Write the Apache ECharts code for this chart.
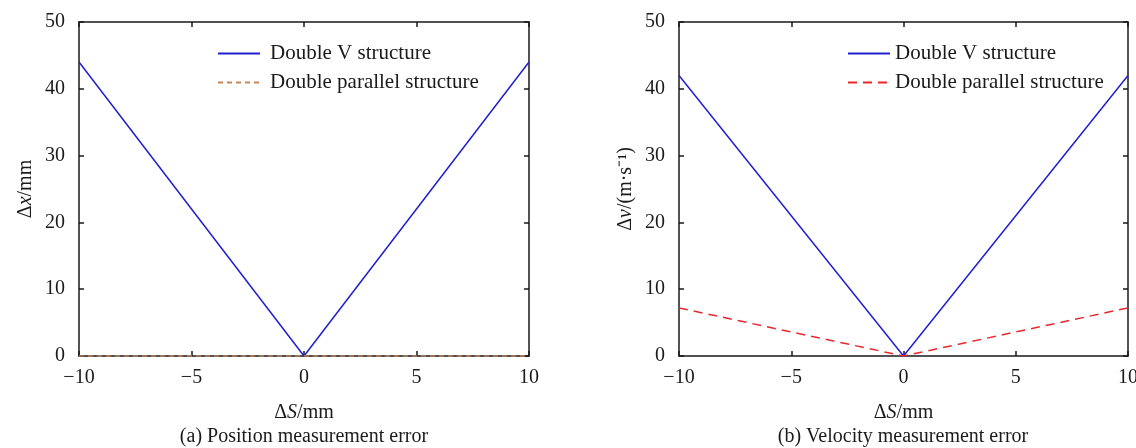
<!DOCTYPE html>
<html lang="en">
<head>
    <meta charset="UTF-8">
    <title>Measurement error</title>
    <style>
        html, body { margin: 0; padding: 0; background: #fff; }
        #main { width: 1136px; height: 448px; }
    </style>
</head>
<body>
<div id="main"></div>

<script src="https://cdn.jsdelivr.net/npm/echarts@6/dist/echarts.min.js"></script>
<script>
    // data
    var deltaS = [-10, 0, 10];
    var posDoubleV = [44, 0, 44];
    var posParallel = [0, 0, 0];
    var velDoubleV = [42, 0, 42];
    var velParallel = [7.2, 0, 7.2];
    var xTicks = [-10, -5, 0, 5, 10];
    var yTicks = [0, 10, 20, 30, 40, 50];

    var legendText = {
        aV: 'Double V structure', aP: 'Double parallel structure',
        bV: 'Double V structure', bP: 'Double parallel structure'
    };

    var font = 'Liberation Serif, Times New Roman, serif';
    var black = '#1a1a1a';

    function pairs(ys) {
        return deltaS.map(function (x, i) { return [x, ys[i]]; });
    }

    function minus(v) {
        return String(v).replace('-', '\u2212');
    }

    var nameRich = {
        n: { fontFamily: font, fontSize: 20, color: black },
        i: { fontFamily: font, fontSize: 20, color: black, fontStyle: 'italic' }
    };

    var axisLine = { show: true, onZero: false, lineStyle: { color: black, width: 1.5 } };
    var axisTick = { show: true, inside: true, length: 5, lineStyle: { color: black, width: 1.5 } };

    function xAxes(gi) {
        var base = {
            type: 'value', gridIndex: gi,
            min: xTicks[0], max: xTicks[xTicks.length - 1], interval: 5,
            splitLine: { show: false },
            axisLine: axisLine, axisTick: axisTick
        };
        return [
            Object.assign({}, base, {
                position: 'bottom',
                axisLabel: { fontFamily: font, fontSize: 20, color: black, margin: 12, formatter: minus },
                name: '{n|\u0394}{i|S}{n|/mm}', nameLocation: 'middle', nameGap: 47,
                nameTextStyle: { rich: nameRich }
            }),
            Object.assign({}, base, { position: 'top', axisLabel: { show: false } })
        ];
    }

    function yAxes(gi, name) {
        var base = {
            type: 'value', gridIndex: gi,
            min: yTicks[0], max: yTicks[yTicks.length - 1], interval: 10,
            splitLine: { show: false },
            axisLine: axisLine, axisTick: axisTick
        };
        return [
            Object.assign({}, base, {
                position: 'left',
                axisLabel: { fontFamily: font, fontSize: 20, color: black, margin: 14 },
                name: name, nameLocation: 'middle', nameGap: 43,
                nameTextStyle: { rich: nameRich }
            }),
            Object.assign({}, base, { position: 'right', axisLabel: { show: false } })
        ];
    }

    function line(name, gi, ys, color, dash) {
        return {
            name: name, type: 'line',
            xAxisIndex: gi * 2, yAxisIndex: gi * 2,
            data: pairs(ys),
            symbol: 'none', silent: true,
            lineStyle: { color: color, width: 1.5, type: dash || 'solid' },
            itemStyle: { color: color }
        };
    }

    function legend(left, names, textPad) {
        return {
            orient: 'vertical', left: left, top: 43, padding: 0,
            data: names, itemWidth: 42, itemHeight: 14, itemGap: 8,
            selectedMode: false,
            itemStyle: { opacity: 0 },
            formatter: function (n) { return legendText[n]; },
            textStyle: { fontFamily: font, fontSize: 21, color: black, padding: [0, 0, 0, textPad] }
        };
    }

    var chart = echarts.init(document.getElementById('main'));
    chart.setOption({
        backgroundColor: '#fff',
        animation: false,
        grid: [
            { left: 79, right: 607, top: 22, bottom: 92, outerBoundsMode: 'none' },
            { left: 679, right: 8, top: 22, bottom: 92, outerBoundsMode: 'none' }
        ],
        xAxis: xAxes(0).concat(xAxes(1)),
        yAxis: yAxes(0, '{n|\u0394}{i|x}{n|/mm}').concat(yAxes(1, '{n|\u0394}{i|v}{n|/(m\u00b7s\u207b\u00b9)}')),
        legend: [legend(217, ['aV', 'aP'], 5), legend(847, ['bV', 'bP'], 0)],
        series: [
            line('aV', 0, posDoubleV, '#2020d0'),
            line('aP', 0, posParallel, '#c8855a', [5, 4]),
            line('bV', 1, velDoubleV, '#2020d0'),
            line('bP', 1, velParallel, '#e8282c', [9, 6])
        ],
        graphic: [
            { type: 'text', x: 304, y: 437, style: { text: '(a) Position measurement error', font: '20px ' + font, fill: black, align: 'center', verticalAlign: 'middle' } },
            { type: 'text', x: 903, y: 437, style: { text: '(b) Velocity measurement error', font: '20px ' + font, fill: black, align: 'center', verticalAlign: 'middle' } }
        ]
    });
</script>
</body>
</html>
